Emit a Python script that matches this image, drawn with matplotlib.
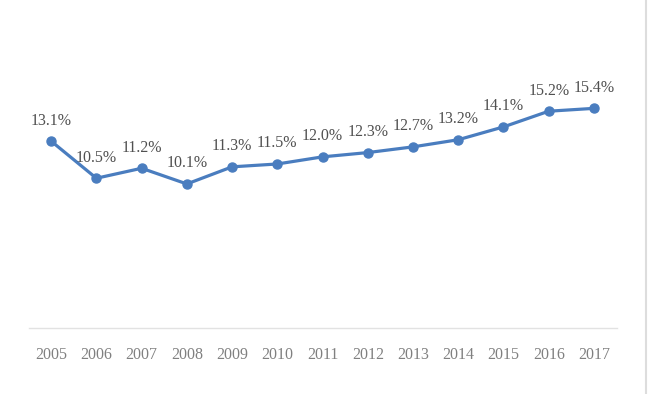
import matplotlib
matplotlib.use("Agg")
import matplotlib.pyplot as plt
from matplotlib.lines import Line2D

years = ["2005", "2006", "2007", "2008", "2009", "2010", "2011",
         "2012", "2013", "2014", "2015", "2016", "2017"]
rates = [13.1, 10.5, 11.2, 10.1, 11.3, 11.5, 12.0, 12.3, 12.7, 13.2, 14.1, 15.2, 15.4]
labels = ["13.1%", "10.5%", "11.2%", "10.1%", "11.3%", "11.5%", "12.0%",
          "12.3%", "12.7%", "13.2%", "14.1%", "15.2%", "15.4%"]

LINE_COLOR = "#4a7dbf"

fig = plt.figure(figsize=(6.49, 3.94), dpi=100)
ax = fig.add_axes([0.044, 0.1675, 0.906, 0.724])

x = list(range(len(years)))
ax.plot(x, rates, color=LINE_COLOR, linewidth=2.3, marker="o", markersize=6.5,
        solid_capstyle="round", zorder=3)

for xi, v, lab in zip(x, rates, labels):
    ax.annotate(lab, (xi, v), xytext=(0, 9), textcoords="offset points",
                ha="center", va="bottom", fontsize=11.5, color="#505050",
                family="Liberation Serif")

ax.set_xlim(-0.5, len(years) - 0.5)
ax.set_ylim(0, 20)
ax.set_xticks(x)
ax.set_xticklabels(years, fontsize=11.5, color="#808080", family="Liberation Serif")
ax.tick_params(axis="x", length=0, pad=14)
ax.set_yticks([])

for side in ["top", "right", "left"]:
    ax.spines[side].set_visible(False)
ax.spines["bottom"].set_color("#e2e2e2")
ax.spines["bottom"].set_linewidth(1.0)

# gray border at the right edge of the picture
fig.add_artist(Line2D([0.995, 0.995], [0, 1], transform=fig.transFigure,
                      color="#dddddd", linewidth=1.5))

fig.savefig("out.png", dpi=100)
